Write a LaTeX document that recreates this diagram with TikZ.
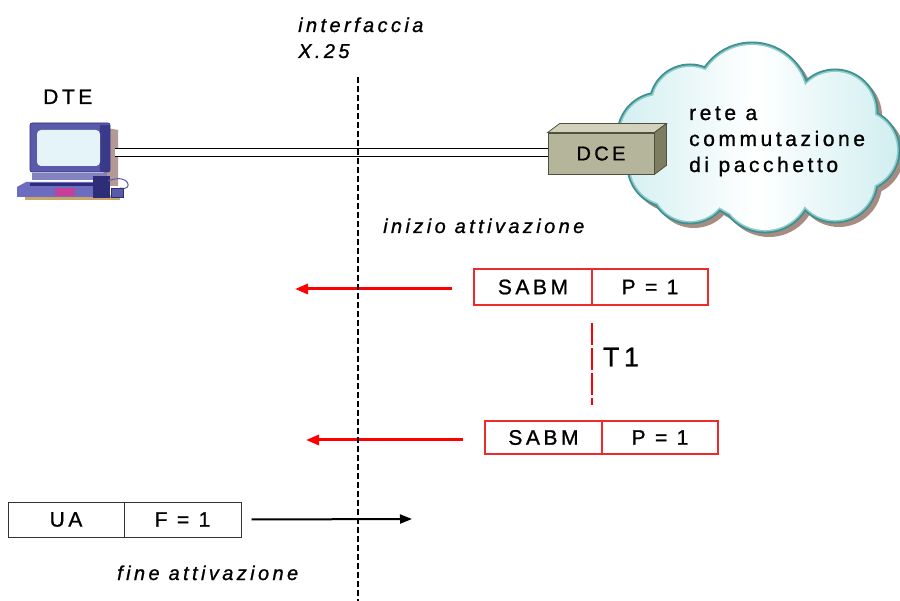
\documentclass[tikz,border=0pt]{standalone}
\usepackage{fontspec}
\setmainfont{Liberation Sans}
\newfontfamily\spf[LetterSpace=17,FakeBold=1]{Liberation Sans}
\usetikzlibrary{arrows.meta}
\definecolor{cloudedge}{HTML}{3F9090}
\definecolor{cloudin}{HTML}{8FCBCB}
\definecolor{cloudfill}{HTML}{CDEDEF}
\definecolor{cloudshadow}{HTML}{A88C82}
\definecolor{dcefront}{HTML}{B5B59B}
\definecolor{dcetop}{HTML}{D2D2BC}
\definecolor{dceside}{HTML}{7D7D61}
\definecolor{dceline}{HTML}{505040}
\definecolor{boxred}{HTML}{EE2A2A}
\definecolor{arrred}{HTML}{FF0000}
\definecolor{pcbezel}{HTML}{5A5AAA}
\definecolor{pcdark}{HTML}{2E2E78}
\definecolor{pcscreen}{HTML}{E4F4F8}
\definecolor{pcside}{HTML}{3A3A8A}
\definecolor{pcshadow}{HTML}{B49A96}
\definecolor{pcbase}{HTML}{6C6CC0}
\definecolor{pctan}{HTML}{C8A868}
\newcommand{\cloudcircles}[1]{(660,135) circle[radius=40+#1] (690,105) circle[radius=38+#1] (752,100) circle[radius=55+#1] (835,112) circle[radius=40+#1] (858,150) circle[radius=39+#1] (835,180) circle[radius=40+#1] (765,185) circle[radius=45+#1] (690,183) circle[radius=38+#1] (670,165) circle[radius=40+#1] (760,150) circle[radius=70+#1]}
\begin{document}
\begin{tikzpicture}[x=1pt,y=-1pt,
  lbl/.style={font=\spf\fontsize{20}{26}\selectfont\itshape, inner sep=0, align=left},
  plain/.style={font=\spf\fontsize{21}{26}\selectfont, inner sep=0, align=left},
  cell/.style={draw=boxred, line width=1.2pt, minimum height=35pt, inner sep=0, font=\spf\fontsize{21}{22}\selectfont},
  bcell/.style={draw=black!80, line width=1pt, minimum height=35pt, inner sep=0, font=\spf\fontsize{21}{22}\selectfont},
  redarr/.style={draw=arrred, line width=3pt, -{Triangle[length=13pt,width=10pt]}},
  blkarr/.style={draw=black, line width=2pt, -{Triangle[length=12pt,width=9pt]}},
  iface/.style={draw=black, line width=2pt, dash pattern=on 6pt off 3pt},
  timer/.style={draw=arrred, line width=2pt, dash pattern=on 22pt off 3pt}]
\useasboundingbox (0,0) rectangle (900,601);
\fill[white] (0,0) rectangle (900,601);

% cloud
\fill[cloudshadow, shift={(4,4)}] \cloudcircles{3};
\fill[cloudedge] \cloudcircles{3.5};
\fill[cloudin] \cloudcircles{1.6};
\begin{scope}
\clip \cloudcircles{0};
\shade[left color=cloudfill, right color=cloudfill, middle color=white] (600,30) rectangle (910,240);
\end{scope}
\node[plain, anchor=base west] (net) at (689,172) {rete a\\commutazione\\di pacchetto};

% computer (DTE)
\node[minimum width=85pt, minimum height=60pt, inner sep=0] (dte) at (72.5,152.5) {};
\fill[pcshadow] (102,127) -- (118,130) -- (118,186) -- (104,186) -- cycle;
\fill[pctan] (25,195) rectangle (120,200);
\filldraw[fill=pcbezel, draw=pcdark, line width=0.6pt, rounded corners=2pt] (30,123) rectangle (110,172);
\fill[pcside] (100,125) rectangle (110,172);
\fill[pcscreen, rounded corners=4pt] (37,130) rectangle (100,166);
\fill[pcbezel!75!white] (32,173) rectangle (107,180);
\fill[pcbase] (17,187) -- (26,182) -- (107,182) -- (107,197) -- (17,197) -- cycle;
\fill[pcdark] (30,183) rectangle (100,186);
\fill[magenta!60!pcbase] (55,188) rectangle (75,196);
\fill[pcdark] (93,176) rectangle (110,198);
\draw[pcbezel, line width=1pt] (108,181) .. controls (130,172) and (134,192) .. (120,188);
\filldraw[fill=pcbezel, draw=pcdark, line width=0.5pt] (111,188) rectangle (123,197);
\node[plain, anchor=base west] (dtelbl) at (43,104) {DTE};

% DCE box
\node[fill=dcefront, draw=dceline, line width=0.8pt, minimum width=106pt, minimum height=41pt, inner sep=0, font=\spf\fontsize{20}{22}\selectfont] (dce) at (601,153.5) {DCE};
\filldraw[fill=dcetop, draw=dceline, line width=0.8pt] (dce.north west) -- ++(12,-9) -- ([shift={(12,-9)}]dce.north east) -- (dce.north east) -- cycle;
\filldraw[fill=dceside, draw=dceline, line width=0.8pt] (dce.north east) -- ++(12,-9) -- ([shift={(12,-9)}]dce.south east) -- (dce.south east) -- cycle;

% link DTE - DCE
\draw[double=white, double distance=6.4pt, line width=1.3pt] (dte.east) -- (dte.east -| dce.west);

% labels
\node[lbl, anchor=base west] (ifl) at (298,58) {interfaccia\\X.25};
\node[lbl, anchor=base west] (start) at (383,233) {inizio attivazione};
\node[lbl, anchor=base west] (end) at (117,580) {fine attivazione};

% frames
\node[cell, minimum width=118pt, minimum height=36pt] (sabm1) at (533,287) {SABM};
\node[cell, minimum width=116pt, minimum height=36pt] (p1) at (650,287) {P = 1};
\node[cell, minimum width=117pt, minimum height=33pt] (sabm2) at (543.5,437.5) {SABM};
\node[cell, minimum width=116pt, minimum height=33pt] (p2) at (660,437.5) {P = 1};
\node[bcell, minimum width=116pt] (ua) at (66,519.5) {UA};
\node[bcell, minimum width=117pt] (f1) at (182.5,519.5) {F = 1};

% arrows
\coordinate (a1) at (295,289);
\coordinate (a2) at (306,440);
\coordinate (a3) at (412,519);
\draw[redarr] ([shift={(-21,2)}]sabm1.west) -- (a1);
\draw[redarr] ([shift={(-21,2.5)}]sabm2.west) -- (a2);
\draw[blkarr] ([shift={(10,0)}]f1.east) -- (a3);

% timer T1
\coordinate (t1a) at (592,323);
\coordinate (t1b) at (592,405);
\draw[timer] (t1a) -- (t1b);
\node[font=\spf\fontsize{27}{30}\selectfont, inner sep=0] (t1) at (621,357) {T1};

% interface line
\coordinate (itop) at (358,77);
\coordinate (ibot) at (358,601);
\draw[iface] (itop) -- (ibot);
\end{tikzpicture}
\end{document}
